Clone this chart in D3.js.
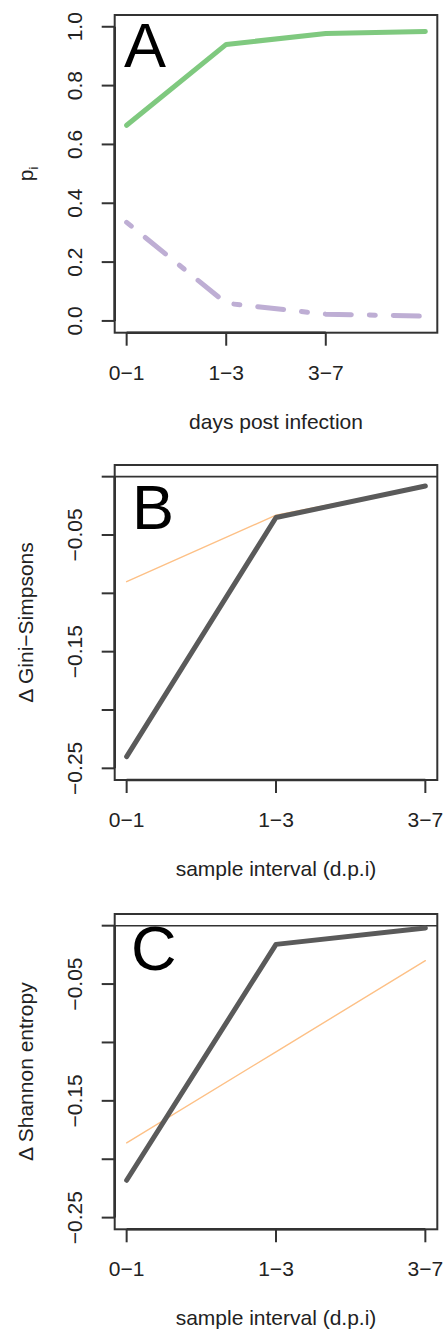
<!DOCTYPE html>
<html>
<head>
<meta charset="utf-8">
<script src="https://cdn.jsdelivr.net/npm/d3@7"></script>
<style>
  body { margin: 0; background: #fff; }
  text { font-family: "Liberation Sans", Arial, sans-serif; fill: #222; }
</style>
</head>
<body>
<div id="chart"></div>
<script>
// data
var intervalsA = ["0\u22121", "1\u22123", "3\u22127"];
var intervalsBC = ["0\u22121", "1\u22123", "3\u22127"];
var pMajor = [0.665, 0.94, 0.977, 0.984];
var pMinor = [0.335, 0.06, 0.023, 0.016];
var giniObs = [-0.240, -0.035, -0.008];
var giniExp = [-0.090, -0.033, -0.008];
var shannonObs = [-0.218, -0.016, -0.002];
var shannonExp = [-0.186, -0.108, -0.030];
var ticksA = [0, 0.2, 0.4, 0.6, 0.8, 1.0];
var ticksBC = [-0.25, -0.20, -0.15, -0.10, -0.05, 0];
var labelledBC = [-0.25, -0.15, -0.05];

var width = 446, height = 1332;
var svg = d3.select("#chart").append("svg")
	.attr("width", width)
	.attr("height", height);

var boxLeft = 114.7, boxRight = 437.3;
var fs = 21; // tick + axis title size
var fmtMinus = function(v) { return d3.format(".2f")(v).replace("-", "\u2212"); };

function panel(cfg) {
	var g = svg.append("g");
	var x = d3.scaleLinear().domain(cfg.xdom).range([boxLeft, boxRight]);
	var y = d3.scaleLinear().domain(cfg.ydom).range([cfg.bottom, cfg.top]);

	// reference line at zero
	if (cfg.zeroLine) {
		g.append("line")
			.attr("x1", boxLeft).attr("x2", boxRight)
			.attr("y1", y(0)).attr("y2", y(0))
			.attr("stroke", "#333").attr("stroke-width", 1.6);
	}

	var line = d3.line()
		.x(function(d, i) { return x(i + 1); })
		.y(function(d) { return y(d); });

	cfg.series.forEach(function(s) {
		g.append("path")
			.datum(s.values)
			.attr("d", line)
			.attr("fill", "none")
			.attr("stroke", s.color)
			.attr("stroke-width", s.width)
			.attr("stroke-linecap", "round")
			.attr("stroke-linejoin", "round")
			.attr("stroke-dasharray", s.dash || null);
	});

	// box
	g.append("rect")
		.attr("x", boxLeft).attr("y", cfg.top)
		.attr("width", boxRight - boxLeft).attr("height", cfg.bottom - cfg.top)
		.attr("fill", "none").attr("stroke", "#333").attr("stroke-width", 2);

	// x axis
	var xt = cfg.xlabels.map(function(d, i) { return i + 1; });
	g.append("line")
		.attr("x1", x(xt[0])).attr("x2", x(xt[xt.length - 1]))
		.attr("y1", cfg.bottom).attr("y2", cfg.bottom)
		.attr("stroke", "#333").attr("stroke-width", 2.6);
	g.selectAll(".xtick").data(xt).enter().append("line")
		.attr("x1", x).attr("x2", x)
		.attr("y1", cfg.bottom).attr("y2", cfg.bottom + 13)
		.attr("stroke", "#333").attr("stroke-width", 2);
	g.selectAll(".xlab").data(xt).enter().append("text")
		.attr("x", x).attr("y", cfg.bottom + 47)
		.attr("text-anchor", "middle").attr("font-size", fs)
		.text(function(d, i) { return cfg.xlabels[i]; });
	g.append("text")
		.attr("x", (boxLeft + boxRight) / 2).attr("y", cfg.bottom + 96)
		.attr("text-anchor", "middle").attr("font-size", fs)
		.text(cfg.xtitle);

	// y axis
	var yt = cfg.yticks;
	g.append("line")
		.attr("x1", boxLeft).attr("x2", boxLeft)
		.attr("y1", y(d3.min(yt))).attr("y2", y(d3.max(yt)))
		.attr("stroke", "#333").attr("stroke-width", 2.6);
	g.selectAll(".ytick").data(yt).enter().append("line")
		.attr("x1", boxLeft - 13).attr("x2", boxLeft)
		.attr("y1", y).attr("y2", y)
		.attr("stroke", "#333").attr("stroke-width", 2);
	g.selectAll(".ylab").data(cfg.ylabelled).enter().append("text")
		.attr("transform", function(d) { return "translate(82," + y(d) + ") rotate(-90)"; })
		.attr("text-anchor", "middle").attr("font-size", fs)
		.text(cfg.yfmt);
	var yTitle = g.append("text")
		.attr("transform", "translate(33," + (cfg.top + cfg.bottom) / 2 + ") rotate(-90)")
		.attr("text-anchor", "middle").attr("font-size", fs);
	if (cfg.ytitleSub) {
		yTitle.append("tspan").text(cfg.ytitle);
		yTitle.append("tspan").attr("font-size", 13).attr("dy", 5).text(cfg.ytitleSub);
	} else {
		yTitle.text(cfg.ytitle);
	}

	// panel letter
	g.append("text")
		.attr("x", cfg.letterX).attr("y", cfg.letterY)
		.attr("font-size", 63).style("fill", "#000")
		.text(cfg.letter);
}

panel({
	top: 15, bottom: 332.7,
	xdom: [0.88, 4.12], ydom: [-0.04, 1.04],
	xlabels: intervalsA, xtitle: "days post infection",
	yticks: ticksA, ylabelled: ticksA, yfmt: d3.format(".1f"),
	ytitle: "p", ytitleSub: "i",
	letter: "A", letterX: 124, letterY: 67,
	series: [
		{ values: pMajor, color: "#7FC97F", width: 5 },
		{ values: pMinor, color: "#BEAED4", width: 5, dash: "6,18,26,18" }
	]
});

panel({
	top: 465, bottom: 780,
	xdom: [0.92, 3.08], ydom: [-0.26, 0.01], zeroLine: true,
	xlabels: intervalsBC, xtitle: "sample interval (d.p.i)",
	yticks: ticksBC, ylabelled: labelledBC, yfmt: fmtMinus,
	ytitle: "\u0394 Gini\u2212Simpsons",
	letter: "B", letterX: 132, letterY: 529,
	series: [
		{ values: giniExp, color: "#FDC086", width: 1.4 },
		{ values: giniObs, color: "#5a5a5a", width: 5 }
	]
});

panel({
	top: 914, bottom: 1229.3,
	xdom: [0.92, 3.08], ydom: [-0.26, 0.01], zeroLine: true,
	xlabels: intervalsBC, xtitle: "sample interval (d.p.i)",
	yticks: ticksBC, ylabelled: labelledBC, yfmt: fmtMinus,
	ytitle: "\u0394 Shannon entropy",
	letter: "C", letterX: 131, letterY: 970,
	series: [
		{ values: shannonExp, color: "#FDC086", width: 1.4 },
		{ values: shannonObs, color: "#5a5a5a", width: 5 }
	]
});
</script>
</body>
</html>
